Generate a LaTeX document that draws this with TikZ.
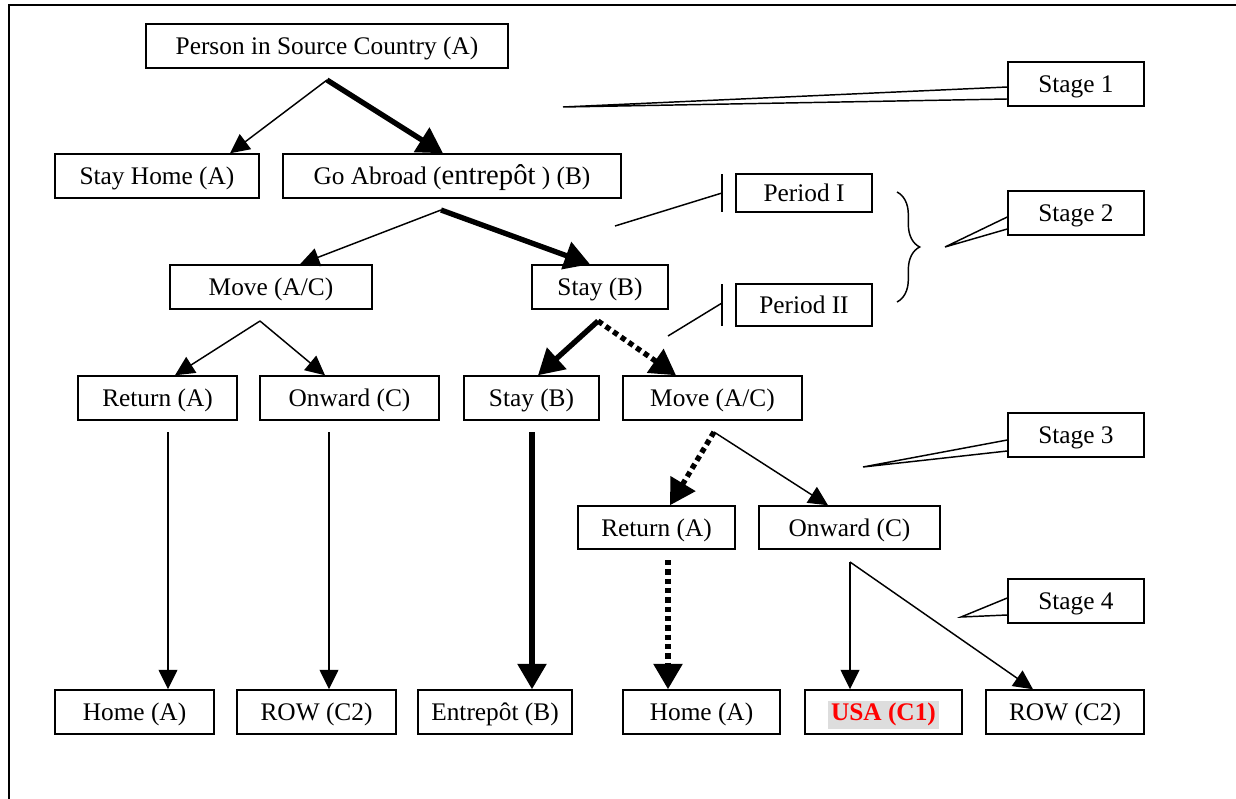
\documentclass[tikz,border=0pt]{standalone}
\usepackage{fontspec}
\setmainfont{Liberation Serif}
\usetikzlibrary{arrows.meta,calc,decorations.pathreplacing}
\definecolor{usared}{RGB}{255,0,0}
\definecolor{usagray}{RGB}{221,221,221}
\begin{document}
\begin{tikzpicture}[x=0.75pt,y=-0.75pt,
  box/.style={draw, line width=1.1pt, inner sep=0pt, text height=16.5pt, text depth=3.2pt, font=\fontsize{19}{22}\selectfont},
  sz/.style 2 args={minimum width=#1*0.75pt, minimum height=#2*0.75pt},
  thinarr/.style={line width=1.1pt, -{Triangle[length=14.5pt,width=14pt]}},
  thickarr/.style={line width=4pt, -{Triangle[length=19pt,width=21pt]}},
  dotarr/.style={line width=4pt, dash pattern=on 4pt off 3pt, -{Triangle[length=19pt,width=21pt]}},
  callout/.style={line width=1.1pt, line join=miter},
]
\useasboundingbox (0,0) rectangle (1236,799);
% frame
\coordinate (fbl) at (9,799);
\coordinate (ftl) at (9,5);
\coordinate (ftr) at (1236,5);
\draw[line width=2.2pt] (fbl) -- (ftl) -- (ftr);

% nodes
\node[box, sz={362}{44}] (person) at (327,46) {Person in Source Country (A)};
\node[box, sz={204}{44}] (stayhome) at (157,176) {Stay Home (A)};
\node[box, sz={338}{44}] (abroad) at (452,176) {Go Abroad ({\fontsize{21.5}{22}\selectfont entrepôt} ) (B)};
\node[box, sz={202}{44}] (move1) at (271,287) {Move (A/C)};
\node[box, sz={136}{44}] (stay1) at (600,287) {Stay (B)};
\node[box, sz={136}{38}] (p1) at (804,193) {Period I};
\node[box, sz={136}{42}] (p2) at (804,305) {Period II};
\node[box, sz={136}{44}] (s1) at (1076,84) {Stage 1};
\node[box, sz={136}{44}] (s2) at (1076,213) {Stage 2};
\node[box, sz={136}{44}] (s3) at (1076,435) {Stage 3};
\node[box, sz={136}{44}] (s4) at (1076,601) {Stage 4};
\node[box, sz={159}{44}] (ret1) at (157.5,398) {Return (A)};
\node[box, sz={179}{44}] (onw1) at (349.5,398) {Onward (C)};
\node[box, sz={135}{44}] (stay2) at (531.5,398) {Stay (B)};
\node[box, sz={179}{44}] (move2) at (712.5,398) {Move (A/C)};
\node[box, sz={157}{43}] (ret2) at (656.5,527.5) {Return (A)};
\node[box, sz={181}{43}] (onw2) at (849.5,527.5) {Onward (C)};
\node[box, sz={159}{44}] (home1) at (134.5,712) {Home (A)};
\node[box, sz={159}{44}] (row1) at (316.5,712) {ROW (C2)};
\node[box, sz={154}{44}] (entre) at (495,712) {Entrepôt (B)};
\node[box, sz={157}{44}] (home2) at (701.5,712) {Home (A)};
\node[box, sz={157}{44}, text=usared] (usa) at (883.5,712) {\setlength{\fboxsep}{2pt}\colorbox{usagray}{\bfseries USA (C1)}};
\node[box, sz={158}{44}] (row2) at (1065,712) {ROW (C2)};

% junction points
\coordinate (j1) at (327,80);
\coordinate (j2) at (441,210);
\coordinate (j3) at (260,321);
\coordinate (j4) at (598,321);
\coordinate (j5) at (714,432);
\coordinate (j6) at (850,562);
\coordinate (r1s) at (168,432);
\coordinate (o1s) at (329,432);
\coordinate (s2s) at (532,432);
\coordinate (r2s) at (668,560);

% connectors
\draw[thinarr] (j1) -- ($(stayhome.north)+(73,0)$);
\draw[thickarr] (j1) -- ($(abroad.north)+(-9,0)$);
\draw[thinarr] (j2) -- ($(move1.north)+(29,0)$);
\draw[thickarr] (j2) -- ($(stay1.north)+(-10,0)$);
\draw[thinarr] (j3) -- ($(ret1.north)+(17.5,0)$);
\draw[thinarr] (j3) -- ($(onw1.north)+(-24.5,0)$);
\draw[thickarr] (j4) -- ($(stay2.north)+(6.5,0)$);
\draw[dotarr] (j4) -- ($(move2.north)+(-36.5,0)$);
\draw[thinarr] (r1s) -- ($(home1.north)+(33.5,0)$);
\draw[thinarr] (o1s) -- ($(row1.north)+(12.5,0)$);
\draw[thickarr] (s2s) -- ($(entre.north)+(37,0)$);
\draw[dotarr] (j5) -- ($(ret2.north)+(13.5,0)$);
\draw[thinarr] (j5) -- ($(onw2.north)+(-21.5,0)$);
\draw[dotarr] (r2s) -- ($(home2.north)+(-33.5,0)$);
\draw[thinarr] (j6) -- ($(usa.north)+(-33.5,0)$);
\draw[thinarr] (j6) -- ($(row2.north)+(-32,0)$);

% callouts
\coordinate (t1) at (563,107);
\coordinate (t2) at (945,247);
\coordinate (t3) at (863,467);
\coordinate (t4) at (961,617);
\draw[callout] ($(s1.west)+(0,3)$) -- (t1) -- ($(s1.west)+(0,15)$);
\draw[callout] ($(s2.west)+(0,4)$) -- (t2) -- ($(s2.west)+(0,16)$);
\draw[callout] ($(s3.west)+(0,5)$) -- (t3) -- ($(s3.west)+(0,16)$);
\draw[callout] ($(s4.west)+(0,-3)$) -- (t4) -- ($(s4.west)+(0,14)$);

% period line callouts
\coordinate (b1t) at (722,174);
\coordinate (b1b) at (722,212);
\coordinate (b1m) at (722,193);
\coordinate (l1) at (615,226);
\draw[callout] (b1t) -- (b1b);
\draw[callout] (l1) -- (b1m);
\coordinate (b2t) at (722,284);
\coordinate (b2b) at (722,326);
\coordinate (b2m) at (722,303);
\coordinate (l2) at (668,336);
\draw[callout] (b2t) -- (b2b);
\draw[callout] (l2) -- (b2m);

% brace
\coordinate (brt) at (897,192);
\coordinate (brb) at (897,302);
\draw[line width=1.1pt, decorate, decoration={brace, amplitude=17pt}] (brt) -- (brb);
\end{tikzpicture}
\end{document}
